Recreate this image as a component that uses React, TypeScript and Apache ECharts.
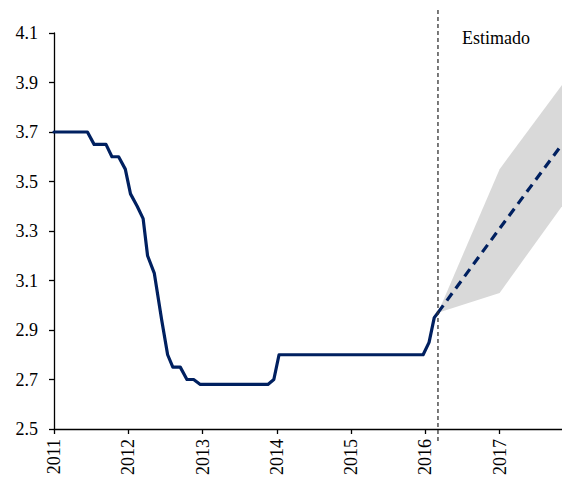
import React, { useEffect, useRef } from "react";
import * as echarts from "echarts";

// Historical series [year (decimal), value]
const historico: [number, number][] = [
  [2011.0, 3.7], [2011.45, 3.7], [2011.54, 3.65], [2011.7, 3.65], [2011.78, 3.6],
  [2011.87, 3.6], [2011.96, 3.55], [2012.03, 3.45], [2012.12, 3.4], [2012.2, 3.35],
  [2012.26, 3.2], [2012.35, 3.13], [2012.45, 2.94], [2012.53, 2.8], [2012.6, 2.75],
  [2012.7, 2.75], [2012.79, 2.7], [2012.88, 2.7], [2012.97, 2.68], [2013.88, 2.68],
  [2013.96, 2.7], [2014.03, 2.8], [2015.97, 2.8], [2016.05, 2.85], [2016.12, 2.95],
  [2016.17, 2.97],
];

// Forecast central path
const estimado: [number, number][] = [
  [2016.17, 2.97], [2017.0, 3.31], [2017.84, 3.65],
];

// Forecast band
const bandaX = [2016.17, 2017.0, 2017.84];
const bandaInferior = [2.97, 3.05, 3.4];
const bandaSuperior = [2.97, 3.55, 3.89];

const inicioEstimado = 2016.17;
const xMin = 2011;
const xMax = 2017.84;
const yTicks = [2.5, 2.7, 2.9, 3.1, 3.3, 3.5, 3.7, 3.9, 4.1];
const etiqueta = "Estimado";

const FONT = "Liberation Serif";

export default function App() {
  const ref = useRef<HTMLDivElement>(null);
  useEffect(() => {
    if (!ref.current) return;
    const chart = echarts.init(ref.current, undefined, { renderer: "svg" });
    const bandData = bandaX.map((x, i) => [x, bandaInferior[i], bandaSuperior[i]]);
    chart.setOption({
      animation: false,
      backgroundColor: "#ffffff",
      textStyle: { fontFamily: FONT },
      grid: { left: 54, right: 0, top: 33, bottom: 48, containLabel: false },
      xAxis: {
        type: "value",
        min: xMin,
        max: xMax,
        interval: 1,
        axisLine: { show: true, lineStyle: { color: "#000", width: 1.3 } },
        axisTick: { show: true, length: 5, lineStyle: { color: "#000", width: 1.3 } },
        splitLine: { show: false },
        axisLabel: {
          rotate: 90,
          margin: 10,
          color: "#000",
          fontFamily: FONT,
          fontSize: 18,
          showMaxLabel: false,
          formatter: (v: number) => (Math.abs(v - Math.round(v)) < 1e-6 ? String(Math.round(v)) : ""),
        },
      },
      yAxis: {
        type: "value",
        min: yTicks[0],
        max: yTicks[yTicks.length - 1],
        interval: 0.2,
        axisLine: { show: true, lineStyle: { color: "#000", width: 1.3 } },
        axisTick: { show: true, length: 5, lineStyle: { color: "#000", width: 1.3 } },
        splitLine: { show: false },
        axisLabel: {
          margin: 16,
          color: "#000",
          fontFamily: FONT,
          fontSize: 18,
          formatter: (v: number) => v.toFixed(1),
        },
      },
      series: [
        {
          type: "custom",
          data: bandData,
          silent: true,
          z: 1,
          renderItem: (params: any, api: any) => {
            if (params.dataIndex !== 0) return null;
            const top = bandData.map((d) => api.coord([d[0], d[2]]));
            const bottom = bandData.map((d) => api.coord([d[0], d[1]])).reverse();
            return {
              type: "polygon",
              shape: { points: top.concat(bottom) },
              style: { fill: "#d9d9d9", stroke: "none" },
            };
          },
          encode: { x: 0, y: [1, 2] },
        },
        {
          type: "line",
          data: historico,
          symbol: "none",
          lineStyle: { color: "#002060", width: 3.2, join: "round", cap: "round" },
          z: 3,
        },
        {
          type: "line",
          data: estimado,
          symbol: "none",
          lineStyle: { color: "#002060", width: 3.2, type: [9, 6] },
          z: 3,
        },
      ],
    });
    const px = chart.convertToPixel({ xAxisIndex: 0 }, inicioEstimado) as number;
    chart.setOption({
      graphic: [
        {
          type: "line",
          shape: { x1: px, y1: 10, x2: px, y2: 442 },
          style: { stroke: "#333", lineWidth: 1.3, lineDash: [4, 3] },
          z: 10,
        },
        {
          type: "text",
          x: 462,
          y: 38,
          style: {
            text: etiqueta,
            fill: "#000",
            fontFamily: FONT,
            fontSize: 18,
            verticalAlign: "middle",
          },
          z: 10,
        },
      ],
    });
    return () => chart.dispose();
  }, []);
  return <div ref={ref} style={{ width: 562, height: 478, position: "absolute", left: 0, top: 0 }} />;
}
